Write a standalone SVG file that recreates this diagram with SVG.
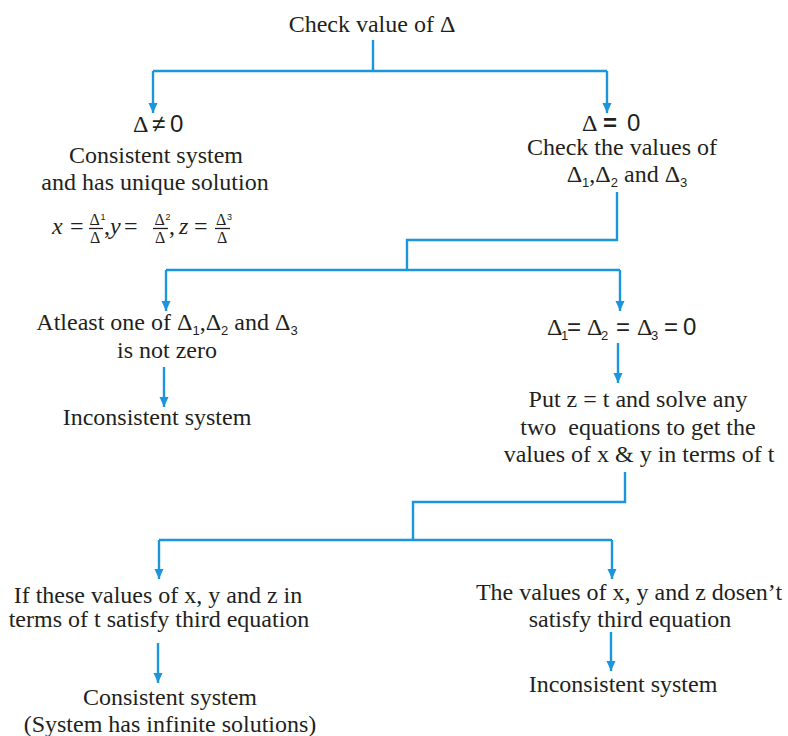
<svg xmlns="http://www.w3.org/2000/svg" width="788" height="736" viewBox="0 0 788 736">
<defs>
<marker id="ah" markerUnits="userSpaceOnUse" markerWidth="10" markerHeight="10" refX="10" refY="5" orient="auto">
<path d="M0,0.5 L10,5 L0,9.5 z" fill="#1a96dd"/>
</marker>
<style>
.c{fill:none;stroke:#1a96dd;stroke-width:2.4}
.a{marker-end:url(#ah)}
text{font-family:'Liberation Serif','Times New Roman',serif;font-size:24px;fill:#231f20}
.m{text-anchor:middle}
.s{font-family:'Liberation Sans',Arial,sans-serif}
.sub{font-family:'Liberation Sans',Arial,sans-serif;font-size:13px}
.i{font-style:italic}
.f{font-size:16px}
.fs{font-family:'Liberation Sans',Arial,sans-serif;font-size:9px}
.bar{stroke:#231f20;stroke-width:1.3}
</style>
</defs>
<rect width="788" height="736" fill="#fff"/>
<g id="connectors">
<path class="c" d="M373,40 V71 M153,71 H607"/>
<path class="c a" d="M153,71 V113"/>
<path class="c a" d="M607,71 V113"/>
<path class="c" d="M617,192 V240 H407 V270 M166,270 H620"/>
<path class="c a" d="M166,270 V311"/>
<path class="c a" d="M620,270 V311"/>
<path class="c a" d="M164,367 V407"/>
<path class="c a" d="M618,343 V383"/>
<path class="c" d="M625,472 V502 H413 V540 M159,540 H612"/>
<path class="c a" d="M159,540 V579"/>
<path class="c a" d="M612,540 V579"/>
<path class="c a" d="M158,643 V683"/>
<path class="c a" d="M611,632 V671"/>
</g>
<g id="n-check">
<text class="m" x="372" y="32">Check value of Δ</text>
</g>
<g id="n-nonzero">
<text x="133" y="132">Δ<tspan class="s" x="152">≠</tspan><tspan class="s" x="170">0</tspan></text>
<text class="m" x="156" y="163">Consistent system</text>
<text class="m" x="155" y="190">and has unique solution</text>
<g id="formula">
<text x="52" y="234"><tspan class="i">x</tspan><tspan x="70">=</tspan><tspan class="f" x="89.5" y="225">Δ</tspan><tspan class="fs" x="100.5" y="220">1</tspan><tspan class="f" x="90" y="243">Δ</tspan><tspan x="104" y="234">,</tspan><tspan class="i" x="110">y</tspan><tspan x="124">=</tspan><tspan class="f" x="154.5" y="225">Δ</tspan><tspan class="fs" x="165.5" y="220">2</tspan><tspan class="f" x="155" y="243">Δ</tspan><tspan x="169" y="234">,</tspan><tspan class="i" x="179">z</tspan><tspan x="194">=</tspan><tspan class="f" x="216" y="225">Δ</tspan><tspan class="fs" x="227" y="220">3</tspan><tspan class="f" x="217" y="243">Δ</tspan></text>
<line class="bar" x1="89" y1="228.5" x2="103" y2="228.5"/>
<line class="bar" x1="153" y1="228.5" x2="168" y2="228.5"/>
<line class="bar" x1="215" y1="228.5" x2="230" y2="228.5"/>
</g>
</g>
<g id="n-zero">
<text x="582" y="131">Δ<tspan class="s" x="603" font-weight="bold">=</tspan><tspan class="s" x="627">0</tspan></text>
<text class="m" x="622" y="155">Check the values of</text>
<text class="m" x="627" y="182">Δ<tspan class="sub" dy="5">1</tspan><tspan dy="-5">,Δ</tspan><tspan class="sub" dy="5">2</tspan><tspan dy="-5"> and Δ</tspan><tspan class="sub" dy="5">3</tspan></text>
</g>
<g id="n-atleast">
<text class="m" x="167" y="330">Atleast one of Δ<tspan class="sub" dy="5">1</tspan><tspan dy="-5">,Δ</tspan><tspan class="sub" dy="5">2</tspan><tspan dy="-5"> and Δ</tspan><tspan class="sub" dy="5">3</tspan></text>
<text class="m" x="167" y="358">is not zero</text>
</g>
<g id="n-incons1">
<text class="m" x="157" y="425">Inconsistent system</text>
</g>
<g id="n-allzero">
<text x="547" y="335">Δ<tspan class="sub" x="561" y="340">1</tspan><tspan class="s" x="567" y="335">=</tspan><tspan x="587">Δ</tspan><tspan class="sub" x="601" y="340">2</tspan><tspan class="s" x="616" y="335">=</tspan><tspan x="637">Δ</tspan><tspan class="sub" x="651" y="340">3</tspan><tspan class="s" x="664" y="335">=</tspan><tspan class="s" x="683">0</tspan></text>
</g>
<g id="n-put">
<text class="m" x="638" y="407">Put z = t and solve any</text>
<text class="m" x="638" y="435" xml:space="preserve">two  equations to get the</text>
<text class="m" x="639" y="462">values of x &amp; y in terms of t</text>
</g>
<g id="n-satisfy">
<text class="m" x="158" y="603">If these values of x, y and z in</text>
<text class="m" x="159" y="627">terms of t satisfy third equation</text>
</g>
<g id="n-cons2">
<text class="m" x="170" y="705">Consistent system</text>
<text class="m" x="170" y="732">(System has infinite solutions)</text>
</g>
<g id="n-notsatisfy">
<text class="m" x="629" y="600">The values of x, y and z dosen’t</text>
<text class="m" x="630" y="627">satisfy third equation</text>
</g>
<g id="n-incons2">
<text class="m" x="623" y="692">Inconsistent system</text>
</g>
</svg>
